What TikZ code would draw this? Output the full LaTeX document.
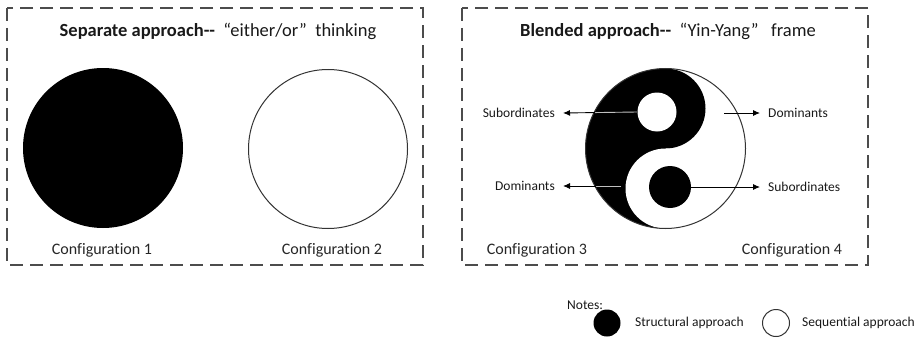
\documentclass[tikz,border=0pt]{standalone}
\usepackage{fontspec}
\setmainfont{Carlito}[Ligatures=NoCommon]
\usepackage{tikz}
\usetikzlibrary{arrows.meta,positioning}

\begin{document}
\begin{tikzpicture}
	[x=1pt, y=-1pt,
	framebox/.style={draw=black!70, line width=1.2pt, dash pattern=on 13pt off 7pt},
	headline/.style={font=\fontsize{18.5}{21}\selectfont, text=black!90},
	conflabel/.style={font=\fontsize{16}{19}\selectfont, text=black!85},
	sidelabel/.style={font=\fontsize{13.5}{16}\selectfont, text=black!90, inner xsep=8pt, inner ysep=2pt},
	blackdisc/.style={circle, fill=black, inner sep=0pt},
	whitedisc/.style={circle, draw=black!80, line width=1pt, fill=white, inner sep=0pt},
	link/.style={line width=0.9pt, -{Latex[length=7pt,width=6pt]}}]

	\useasboundingbox (0,0) rectangle (920,345);

	% the two dashed frames
	\draw[framebox] (7,8) rectangle (423,265);
	\draw[framebox] (462,8) rectangle (868,265);

	\node[headline] (septitle) at (218,31) {\textbf{Separate approach-{}-}\ \ “either/or”\ \ thinking};
	\node[headline] (bletitle) at (668,31) {\textbf{Blended approach-{}-}\ \ “Yin-Yang”\ \ \ frame};

	% separate approach
	\node[blackdisc, minimum size=160pt] (conf1) at (103,148) {};
	\node[whitedisc, minimum size=159pt] (conf2) at (328,149) {};

	% blended approach: yin-yang
	\node[circle, minimum size=160pt, inner sep=0pt] (yy) at (665.5,148.5) {};
	\begin{scope}
		\clip (585.5,60) rectangle (665.5,240);
		\fill[black] (yy.center) circle (80);
	\end{scope}
	\fill[black] (665.5,108.5) circle (40);
	\fill[white] (665.5,188.5) circle (40);
	\draw[black!80, line width=1pt] (yy.center) circle (80);
	\node[circle, fill=white, inner sep=0pt, minimum size=39pt] (wdot) at (657,112) {};
	\node[blackdisc, minimum size=42pt] (bdot) at (670,187) {};

	\node[sidelabel, anchor=east] (sub3) at (563,113) {Subordinates};
	\node[sidelabel, anchor=east] (dom3) at (563,186) {Dominants};
	\node[sidelabel, anchor=west] (dom4) at (760,113) {Dominants};
	\node[sidelabel, anchor=west] (sub4) at (760,187) {Subordinates};
	\coordinate (dstart) at (621,186);
	\coordinate (rstart) at (724,113);

	\draw[link] (wdot.west) -- (sub3.east);
	\draw[link] (dstart) -- (dom3.east);
	\begin{scope}
		\clip (yy.center) circle (79);
		\draw[white!75!black, line width=0.9pt] (wdot.west) -- (sub3.east);
		\draw[white!75!black, line width=0.9pt] (dstart) -- (dom3.east);
	\end{scope}
	\draw[link] (rstart) -- (dom4.west);
	\draw[link] (bdot.east) -- (sub4.west);

	\node[conflabel] (c1) at (102,250) {Configuration 1};
	\node[conflabel] (c2) at (332,250) {Configuration 2};
	\node[conflabel] (c3) at (537,250) {Configuration 3};
	\node[conflabel] (c4) at (792,250) {Configuration 4};

	% legend
	\node[sidelabel, anchor=west, inner xsep=0pt] (notes) at (567,305) {Notes:};
	\node[blackdisc, minimum size=27pt] (keyblack) at (607,323) {};
	\node[sidelabel, anchor=west, inner xsep=0pt] (structural) at (635,323) {Structural approach};
	\node[whitedisc, minimum size=27pt] (keywhite) at (776,323) {};
	\node[sidelabel, anchor=west, inner xsep=0pt] (sequential) at (802,323) {Sequential approach};
\end{tikzpicture}
\end{document}
